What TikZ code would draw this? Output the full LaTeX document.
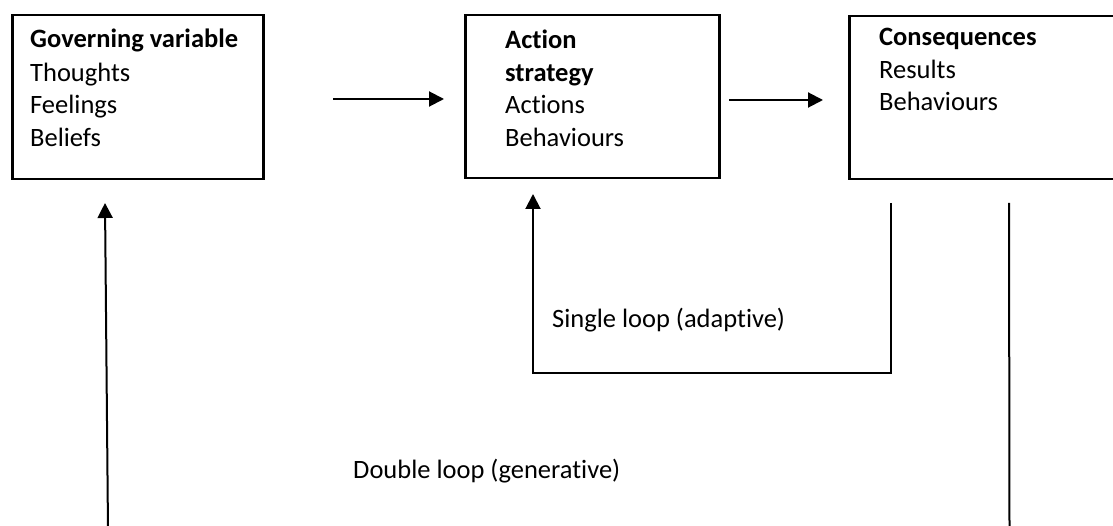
\documentclass[tikz,border=0pt]{standalone}
\usepackage{fontspec}
\setmainfont{Carlito}[Ligatures={NoCommon,NoContextual,NoRequired}]
\usetikzlibrary{arrows.meta}
\newcommand{\nl}{\kern0pt }
\begin{document}
\begin{tikzpicture}[x=1pt,y=-1pt,
  box/.style={draw,line width=2.5pt,rectangle,anchor=north west,inner sep=0pt},
  txt/.style={anchor=base west,inner sep=0pt,font=\fontsize{26.5}{32.5}\selectfont},
  conn/.style={line width=2pt},
  arr/.style={conn,-{Triangle[length=15pt,width=15pt]}}]
\useasboundingbox (0,0) rectangle (1113,526);
% boxes
\node[box,minimum width=251pt,minimum height=164pt] (b1) at (11,14) {};
\node[box,minimum width=254pt,minimum height=163pt] (b2) at (464,14) {};
\node[box,minimum width=290pt,minimum height=163pt] (b3) at (848,15) {};
% texts
\node[txt] (t1a) at (30,48) {\bfseries Governing variable};
\node[txt] (t1b) at (30,81.5) {Thoughts};
\node[txt] (t1c) at (30,114) {Feelings};
\node[txt] (t1d) at (30,146.5) {Beliefs};
\node[txt] (t2a) at (505,49) {\bfseries Act\nl ion};
\node[txt] (t2b) at (505,81.5) {\bfseries strategy};
\node[txt] (t2c) at (505,114) {Act\nl ions};
\node[txt] (t2d) at (505,146.5) {Behaviours};
\node[txt] (t3a) at (879,46) {\bfseries Consequences};
\node[txt] (t3b) at (879,78.5) {Results};
\node[txt] (t3c) at (879,111) {Behaviours};
\node[txt] (sl) at (552,328) {Single loop (adapt\nl ive)};
\node[txt] (dl) at (353,478) {Double loop (generat\nl ive)};
% connector points
\coordinate (a1s) at (333,99);
\coordinate (a1e) at (444,99);
\coordinate (a2s) at (729,100);
\coordinate (a2e) at (823,100);
\coordinate (s1) at (891,203);
\coordinate (s2) at (891,373);
\coordinate (s3) at (533,373);
\coordinate (s4) at (533,194);
\coordinate (d1) at (1009,203);
\coordinate (d2) at (1009.5,530);
\coordinate (d3) at (108,530);
\coordinate (d4) at (105,203);
% connectors
\draw[arr] (a1s) -- (a1e);
\draw[arr] (a2s) -- (a2e);
\draw[arr] (s1) -- (s2) -- (s3) -- (s4);
\draw[conn] (d1) -- (d2);
\draw[arr] (d3) -- (d4);
\end{tikzpicture}
\end{document}
